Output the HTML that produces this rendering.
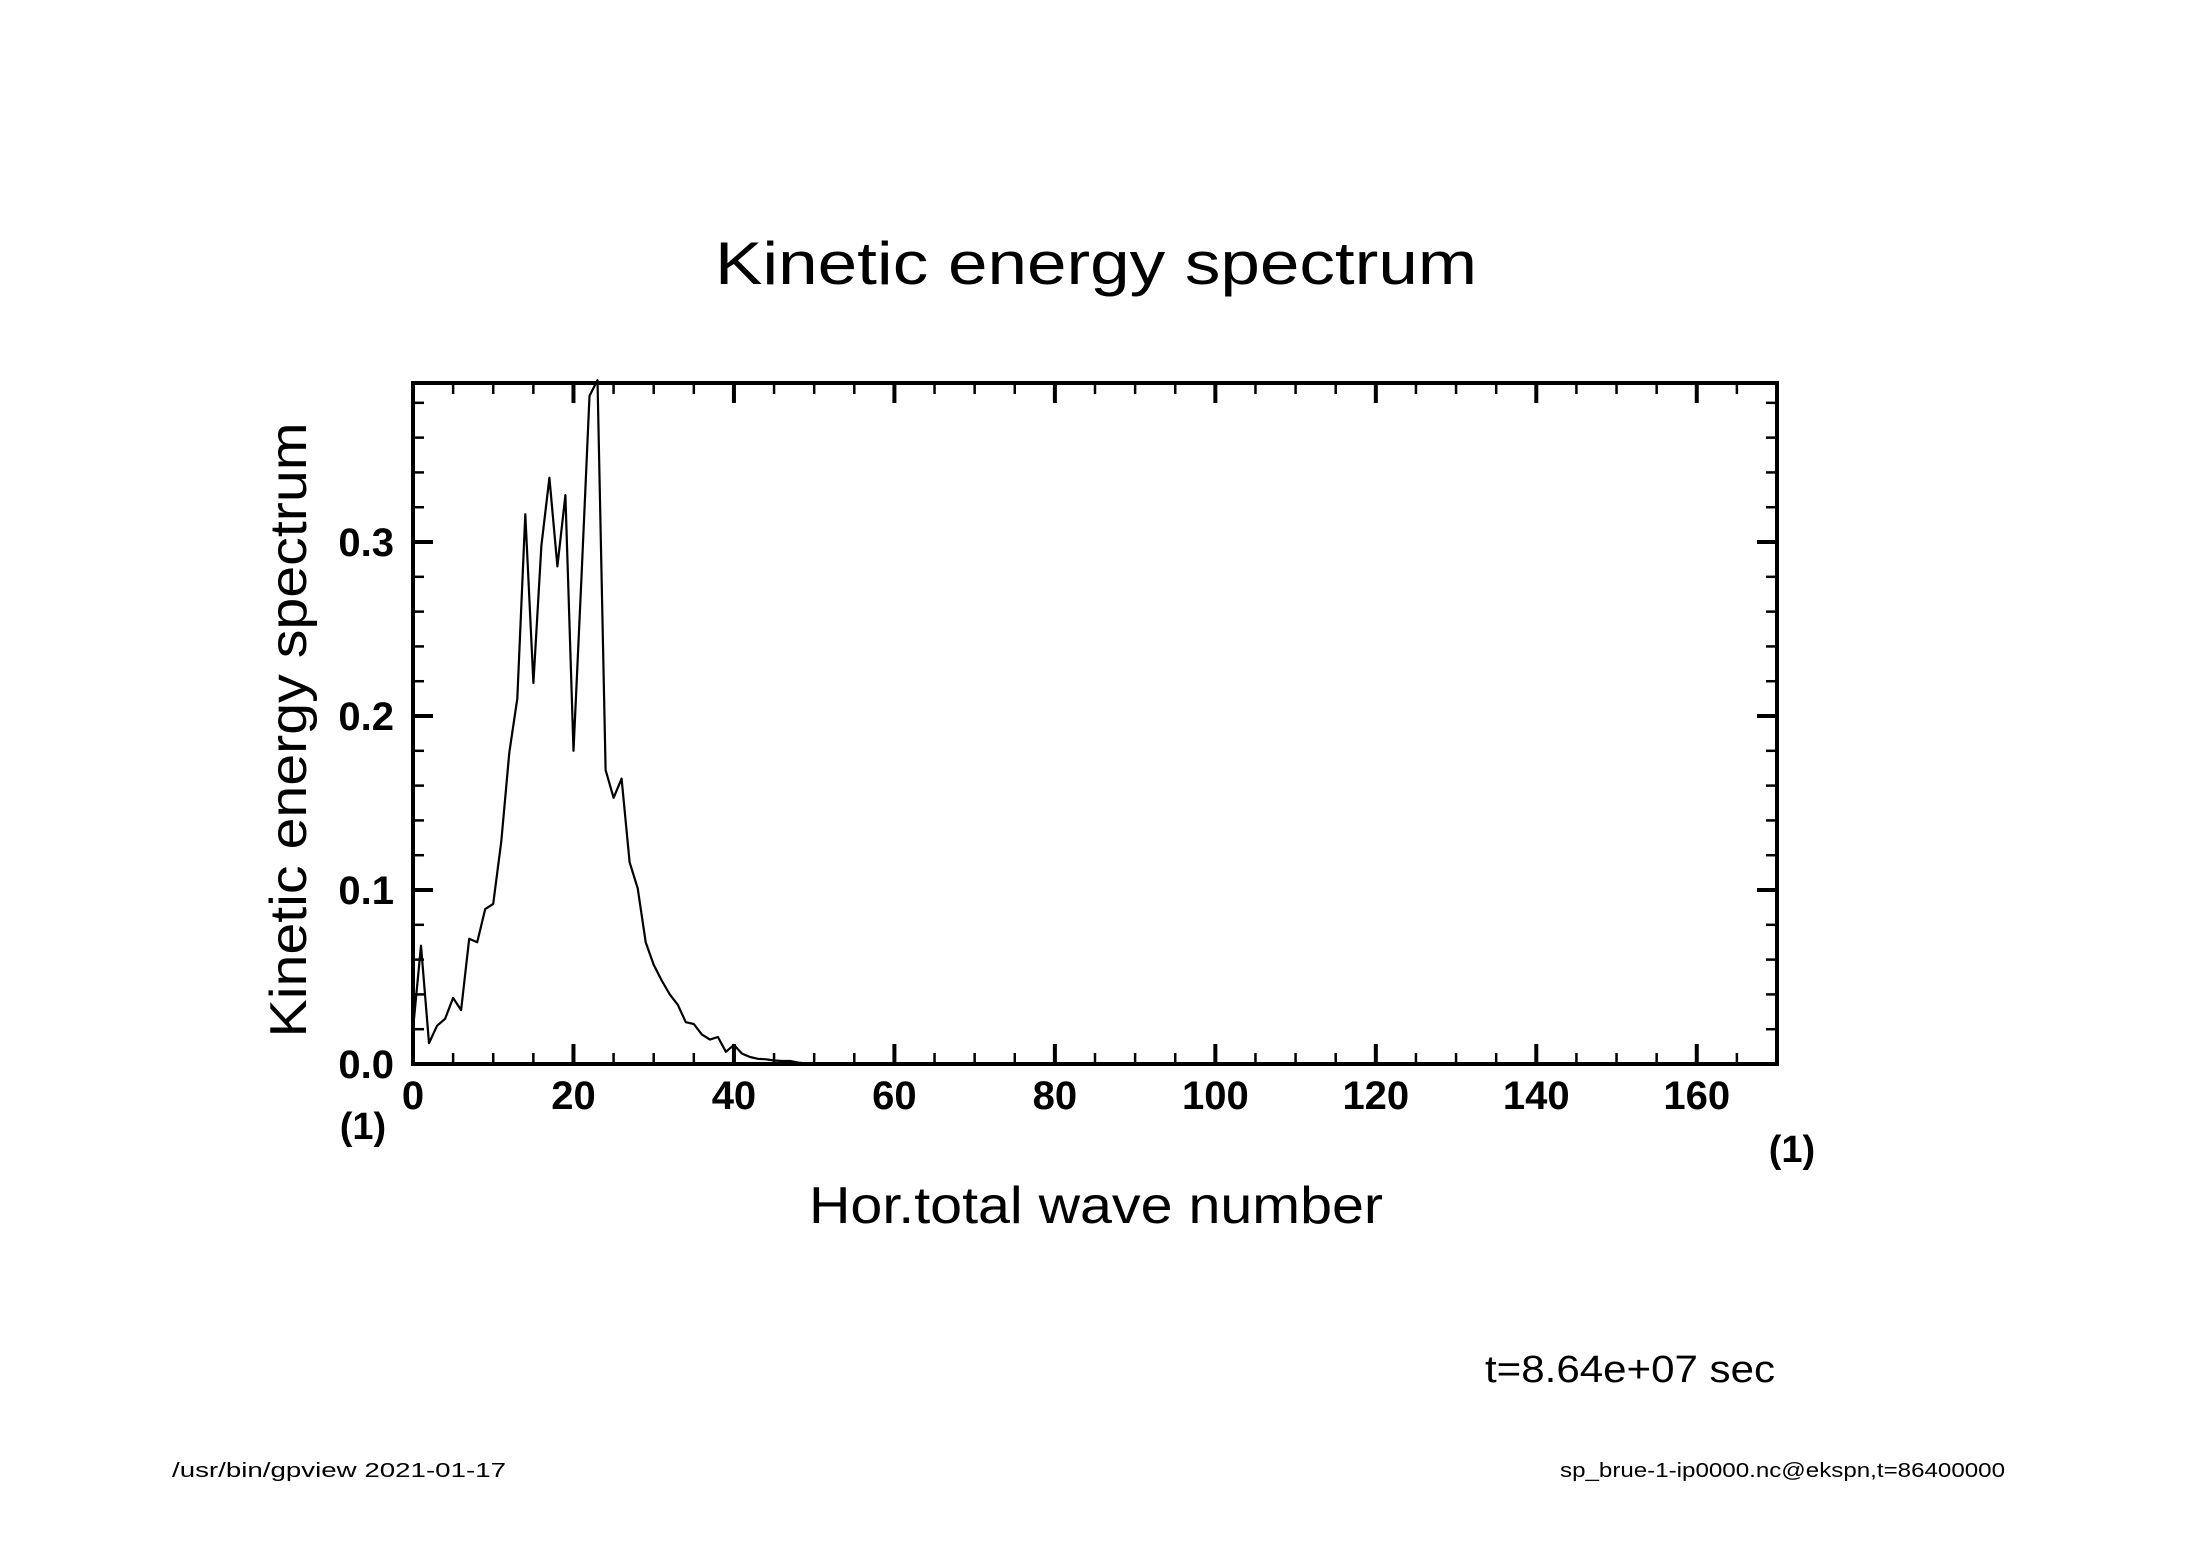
<!DOCTYPE html>
<html><head><meta charset="utf-8"><style>
html,body{margin:0;padding:0;background:#fff;}
svg{display:block;font-family:"Liberation Sans","DejaVu Sans",sans-serif;}
</style></head><body>
<svg id="chart" width="2188" height="1546" viewBox="0 0 2188 1546" xmlns="http://www.w3.org/2000/svg">
<rect width="2188" height="1546" fill="#fff"/>
<text x="1096" y="284" font-size="60" text-anchor="middle" textLength="762" lengthAdjust="spacingAndGlyphs">Kinetic energy spectrum</text>
<text transform="translate(306,730) rotate(-90)" font-size="52" text-anchor="middle" textLength="615" lengthAdjust="spacingAndGlyphs">Kinetic energy spectrum</text>
<text x="1096" y="1223" font-size="52" text-anchor="middle" textLength="574" lengthAdjust="spacingAndGlyphs">Hor.total wave number</text>
<text x="363" y="1139" font-size="38" font-weight="bold" text-anchor="middle">(1)</text>
<text x="1792" y="1162" font-size="38" font-weight="bold" text-anchor="middle">(1)</text>
<text x="1485" y="1382" font-size="38" textLength="290" lengthAdjust="spacingAndGlyphs">t=8.64e+07 sec</text>
<text x="172" y="1477" font-size="20" textLength="334" lengthAdjust="spacingAndGlyphs">/usr/bin/gpview   2021-01-17</text>
<text x="1560" y="1477" font-size="20" textLength="445" lengthAdjust="spacingAndGlyphs">sp_brue-1-ip0000.nc@ekspn,t=86400000</text>
<g id="axes"></g>
<path id="series" fill="none" stroke="#000" stroke-width="2.2" stroke-linejoin="round"/>
<rect x="413" y="383" width="1364" height="681" fill="none" stroke="#000" stroke-width="4"/>
</svg>
<script>
const xTicksMajor = [0,20,40,60,80,100,120,140,160];
const yTicksMajor = [0.0,0.1,0.2,0.3];
const yTickLabels = ["0.0","0.1","0.2","0.3"];
const spectrumValues = [0.02,0.068,0.012,0.022,0.026,0.038,0.031,0.072,0.070,0.089,0.092,0.128,0.179,0.210,0.316,0.219,0.298,0.337,0.286,0.327,0.180,0.280,0.384,0.393,0.169,0.153,0.164,0.116,0.101,0.070,0.057,0.048,0.040,0.034,0.024,0.023,0.017,0.014,0.0155,0.007,0.011,0.006,0.004,0.003,0.0027,0.002,0.0017,0.0017,0.0008,0.0003,0.0002,0.0001];
const xMin=0,xMax=170,yMin=0,yMax=0.3914;
const L=413,R=1777,T=383,B=1064;
function sx(v){return L+(v-xMin)/(xMax-xMin)*(R-L);}
function sy(v){return B-(v-yMin)/(yMax-yMin)*(B-T);}
const NS="http://www.w3.org/2000/svg";
const axes=document.getElementById('axes');
function line(x1,y1,x2,y2,w,name){
  const l=document.createElementNS(NS,'line');
  l.setAttribute('x1',x1);l.setAttribute('y1',y1);l.setAttribute('x2',x2);l.setAttribute('y2',y2);
  l.setAttribute('stroke','#000');l.setAttribute('stroke-width',w);
  
  
  axes.appendChild(l);
}
function text(x,y,s,anchor,name){
  const t=document.createElementNS(NS,'text');
  t.setAttribute('x',x);t.setAttribute('y',y);t.setAttribute('font-size','40');
  t.setAttribute('font-weight','bold');t.setAttribute('text-anchor',anchor);
  t.textContent=s;
  
  
  axes.appendChild(t);
}
for(let v=0;v<=xMax;v+=5){
  const x=sx(v), major=(v%20===0);
  const len=major?20:11, w=major?4:2.5;
  line(x,B,x,B-len,w,'x-tick');
  line(x,T,x,T+len,w,'x-tick-top');
}
xTicksMajor.forEach(v=>text(sx(v),1109,String(v),'middle','x-tick-label'));
for(let i=0;i*0.02<=yMax+1e-9;i++){
  const v=i*0.02, y=sy(v), major=(i%5===0);
  const len=major?20:11, w=major?4:2.5;
  line(L,y,L+len,y,w,'y-tick');
  line(R,y,R-len,y,w,'y-tick-right');
}
yTicksMajor.forEach((v,i)=>text(394,sy(v)+14,yTickLabels[i],'end','y-tick-label'));
let d='';
for(let n=0;n<=xMax;n++){
  const v=n<spectrumValues.length?spectrumValues[n]:0;
  d+=(n===0?'M':'L')+sx(n).toFixed(1)+','+sy(v).toFixed(1);
}
document.getElementById('series').setAttribute('d',d);
</script>
</body></html>
